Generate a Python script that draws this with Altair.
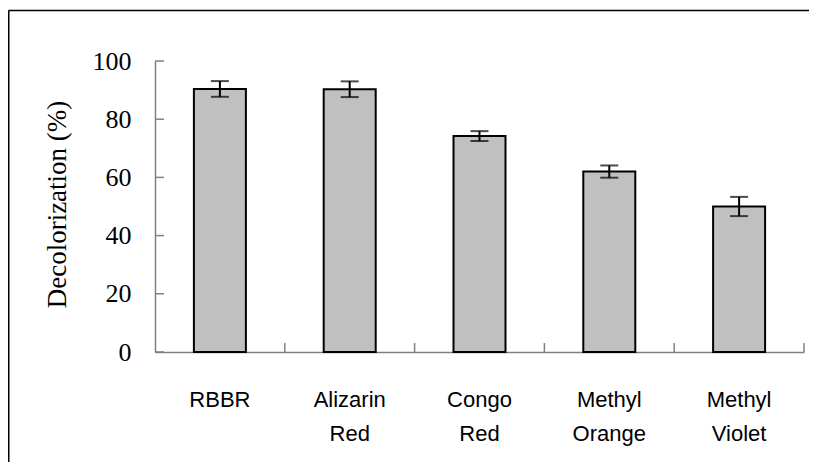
import altair as alt
import pandas as pd

dyes = ["RBBR", "Alizarin Red", "Congo Red", "Methyl Orange", "Methyl Violet"]
decolorization = [90.4, 90.3, 74.2, 62.0, 50.0]
errors = [2.7, 2.7, 1.7, 2.1, 3.3]
y_ticks = [0, 20, 40, 60, 80, 100]

df = pd.DataFrame({
    "dye": dyes,
    "value": decolorization,
    "lo": [v - e for v, e in zip(decolorization, errors)],
    "hi": [v + e for v, e in zip(decolorization, errors)],
})
tick_df = pd.DataFrame({"t": y_ticks})
one = pd.DataFrame({"a": [0]})

W, H = 649, 291
xenc = alt.X(
    "dye:N", sort=dyes, title=None,
    scale=alt.Scale(paddingInner=0, paddingOuter=0),
    axis=alt.Axis(
        labelAngle=0, ticks=False, tickSize=0, domainColor="#808080", domainWidth=1.5,
        labelFont="Liberation Sans", labelFontSize=22, labelColor="black",
        labelPadding=37, labelLineHeight=34, labelBaseline="top",
        labelExpr="split(datum.label, ' ')",
    ),
)
yscale = alt.Scale(domain=[0, 100], nice=False)
yenc = alt.Y(
    "value:Q", scale=yscale, title="Decolorization (%)",
    axis=alt.Axis(
        values=y_ticks, grid=False, ticks=False, tickSize=0,
        domainColor="#808080", domainWidth=1.5,
        labelFont="Liberation Serif", labelFontSize=26, labelColor="black",
        labelPadding=24,
        titleFont="Liberation Serif", titleFontSize=27, titleFontWeight="normal",
        titleColor="black", titleAngle=270, titleX=-98, titleY=143,
        titleAlign="center", titleBaseline="middle",
    ),
)

bars = alt.Chart(df).mark_bar(
    size=52, fill="#c0c0c0", stroke="black", strokeWidth=2
).encode(x=xenc, y=yenc)

err_rule = alt.Chart(df).mark_rule(color="black", strokeWidth=2).encode(
    x=alt.X("dye:N", sort=dyes), y=alt.Y("lo:Q", scale=yscale), y2="hi:Q"
)
cap_lo = alt.Chart(df).mark_tick(
    color="black", size=18, thickness=2, orient="horizontal"
).encode(x=alt.X("dye:N", sort=dyes), y=alt.Y("lo:Q", scale=yscale))
cap_hi = alt.Chart(df).mark_tick(
    color="black", size=18, thickness=2, orient="horizontal"
).encode(x=alt.X("dye:N", sort=dyes), y=alt.Y("hi:Q", scale=yscale))

yticks = alt.Chart(tick_df).mark_rule(color="#808080", strokeWidth=1.5).encode(
    x=alt.value(0), x2=alt.value(9), y=alt.Y("t:Q", scale=yscale)
)
xticks = alt.Chart(df).mark_rule(color="#808080", strokeWidth=1.5).encode(
    x=alt.X("dye:N", sort=dyes, bandPosition=1),
    y=alt.value(H), y2=alt.value(H - 9),
)

border_top = alt.Chart(one).mark_rule(color="black", strokeWidth=1.5).encode(
    x=alt.value(-146.5), x2=alt.value(W + 5), y=alt.value(-50.5)
)
border_left = alt.Chart(one).mark_rule(color="black", strokeWidth=2).encode(
    x=alt.value(-146.5), y=alt.value(-50.5), y2=alt.value(H + 120)
)

chart = alt.layer(
    bars, err_rule, cap_lo, cap_hi, yticks, xticks, border_top, border_left
).properties(
    width=W, height=H,
    autosize=alt.AutoSizeParams(type="none"),
    padding={"left": 147, "top": 53, "right": 5, "bottom": 110},
).configure_view(stroke=None)

chart.save("out.html", embed_options={"renderer": "svg", "actions": False})
